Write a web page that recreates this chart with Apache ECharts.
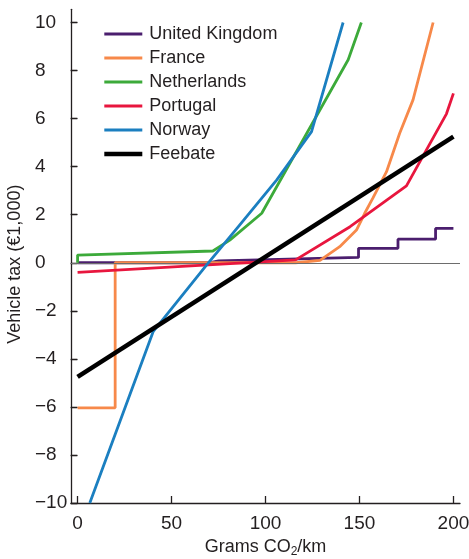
<!DOCTYPE html>
<html>
<head>
<meta charset="utf-8">
<script src="https://cdn.jsdelivr.net/npm/echarts@6/dist/echarts.min.js"></script>
<style>
  html, body { margin: 0; padding: 0; background: #fff; }
  #chart { width: 469px; height: 559px; }
</style>
</head>
<body>
<div id="chart"></div>
<script>
// Vehicle tax schedules by CO2 emissions, in thousands of euros
const seriesNames = ['United Kingdom', 'France', 'Netherlands', 'Portugal', 'Norway', 'Feebate'];
const seriesColors = ['#4b1e6e', '#f7894a', '#3caa3a', '#e8163e', '#1b7fc0', '#000000'];

const unitedKingdom = [[0, 0], [70, 0], [75, 0.08], [149.5, 0.22], [149.5, 0.6], [170.5, 0.6], [170.5, 0.98], [190.5, 0.98], [190.5, 1.43], [200, 1.43]];
const france = [[0, -6.04], [20, -6.04], [20, 0], [116, 0], [129, 0.1], [139.5, 0.67], [148.4, 1.36], [152.8, 2.06], [157.2, 2.7], [164.4, 3.79], [171.4, 5.39], [178.5, 6.78], [189.2, 10]];
const netherlands = [[0, 0], [0, 0.32], [72, 0.49], [81, 0.94], [98, 2.06], [144, 8.45], [151, 10]];
const portugal = [[0, -0.4], [116, 0.12], [145, 1.5], [175, 3.2], [196.3, 6.2], [200, 7.05]];
const norway = [[6.5, -10], [40.2, -2.87], [68.6, -0.1], [86, 1.55], [106, 3.45], [124.5, 5.46], [141.3, 10]];
const feebate = [[0, -4.75], [200, 5.25]];

const seriesData = [unitedKingdom, france, netherlands, portugal, norway, feebate];

const xTicks = [0, 50, 100, 150, 200];
const yTicks = [-10, -8, -6, -4, -2, 0, 2, 4, 6, 8, 10];

const FONT = '"Liberation Sans", Arial, sans-serif';
const INK = '#231f20';
const lineWidthOf = name => (name === 'Feebate' ? 4.6 : 2.8);

const chart = echarts.init(document.getElementById('chart'), null, { renderer: 'canvas' });

const lineSeries = seriesNames.map((name, i) => ({
  name,
  type: 'line',
  data: seriesData[i],
  showSymbol: false,
  symbol: 'none',
  clip: true,
  z: 3 + i,
  lineStyle: { color: seriesColors[i], width: lineWidthOf(name) },
  itemStyle: { color: seriesColors[i] },
  emphasis: { disabled: true }
}));

// thin reference line at zero
lineSeries.unshift({
  name: 'zero',
  type: 'line',
  data: [],
  z: 2,
  silent: true,
  markLine: {
    silent: true,
    symbol: 'none',
    label: { show: false },
    lineStyle: { color: '#6d6d6d', width: 1, type: 'solid' },
    data: [{ yAxis: 0 }]
  }
});

chart.setOption({
  animation: false,
  backgroundColor: '#fff',
  textStyle: { fontFamily: FONT, color: INK },
  grid: { left: 71, right: 9, top: 9.3, bottom: 56, containLabel: false, outerBoundsMode: 'none' },
  legend: {
    data: seriesNames.map((name, i) => ({
      name,
      lineStyle: { color: seriesColors[i], width: lineWidthOf(name) }
    })),
    orient: 'vertical',
    left: 102,
    top: 23.5,
    padding: 0,
    itemWidth: 38,
    itemHeight: 14,
    itemGap: 3,
    selectedMode: false,
    // plain line keys, no marker dot
    itemStyle: { opacity: 0, color: 'transparent', borderColor: 'transparent', borderWidth: 0 },
    textStyle: { fontFamily: FONT, fontSize: 18, color: INK, lineHeight: 21, padding: [0, 0, 0, 2] }
  },
  xAxis: {
    type: 'value',
    min: -3.5,
    max: 203.5,
    name: 'Grams CO{sub|2}/km',
    nameLocation: 'middle',
    nameGap: 34,
    nameTextStyle: {
      fontFamily: FONT, fontSize: 18, color: INK,
      rich: { sub: { fontFamily: FONT, fontSize: 12, color: INK, padding: [9, 0, 0, 0] } }
    },
    splitLine: { show: false },
    axisLine: { show: true, onZero: false, lineStyle: { color: INK, width: 1.3 } },
    axisTick: { show: true, inside: true, length: 7, customValues: xTicks, lineStyle: { color: INK, width: 1.3 } },
    axisLabel: { customValues: xTicks, fontFamily: FONT, fontSize: 19, color: INK, margin: 11 }
  },
  yAxis: [
    {
      type: 'value',
      min: -10,
      max: 10.55,
      name: 'Vehicle tax (€1,000)',
      nameLocation: 'middle',
      nameGap: 42.5,
      nameTextStyle: { fontFamily: FONT, fontSize: 18, color: INK, padding: [0, 16, 0, 0] },
      splitLine: { show: false },
      axisLine: { show: true, onZero: false, lineStyle: { color: INK, width: 1.3 } },
      axisTick: { show: true, inside: true, length: 6, customValues: yTicks, lineStyle: { color: INK, width: 1.3 } },
      axisLabel: {
        customValues: yTicks,
        fontFamily: FONT, fontSize: 19, color: INK,
        align: 'left', margin: 36,
        formatter: v => String(v).replace('-', '\u2212')
      }
    },
    {
      type: 'value',
      position: 'right',
      min: -10,
      max: 10.55,
      splitLine: { show: false },
      axisLine: { show: false },
      axisTick: { show: true, inside: true, length: 7, customValues: yTicks, lineStyle: { color: INK, width: 1.3 } },
      axisLabel: { show: false }
    }
  ],
  series: lineSeries
});
</script>
</body>
</html>
